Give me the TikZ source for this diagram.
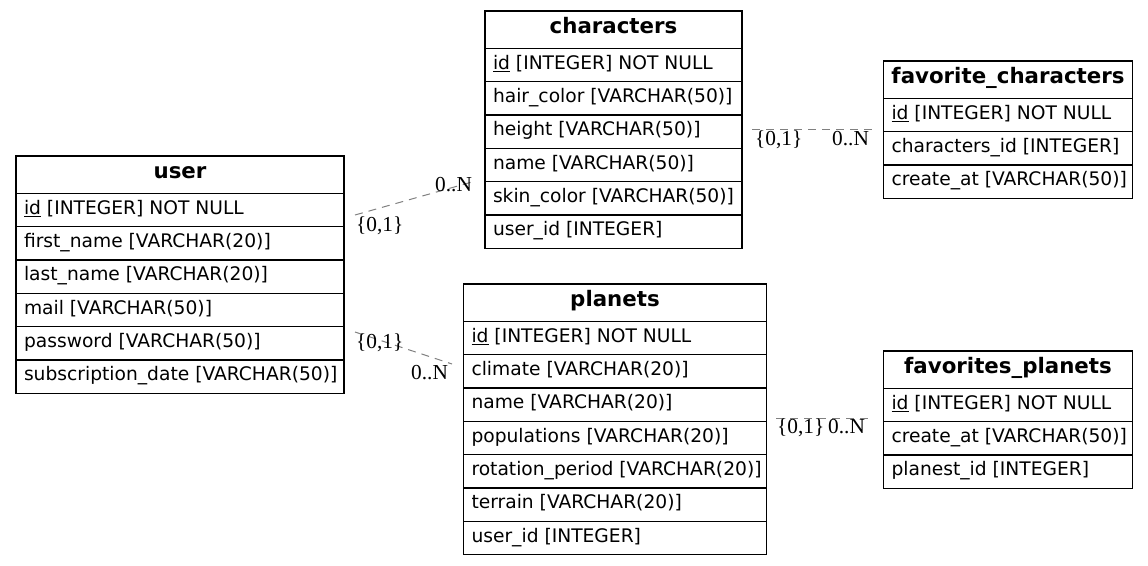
\documentclass[tikz,border=0pt]{standalone}
\usepackage{fontspec}
\setmainfont{DejaVu Sans}
\newfontfamily\cardfont{Liberation Serif}
\newcommand\rowfont{\fontsize{18.67pt}{22pt}\selectfont}
\newcommand\hdrfont{\fontsize{21.33pt}{25pt}\selectfont\bfseries}
\newcommand\cfont{\fontsize{21.33pt}{25pt}\selectfont\cardfont}
\tikzset{
  hdr/.style={draw=black, line width=1.1pt, outer sep=0pt, anchor=north west, inner xsep=0pt, inner ysep=0pt,
    text height=22pt, text depth=15.33pt, font=\hdrfont},
  cell/.style={draw=black, line width=1.1pt, outer sep=0pt, anchor=north west, inner xsep=8pt, inner ysep=0pt,
    text height=21pt, text depth=12.33pt, font=\rowfont},
  rel/.style={draw={rgb,255:red,128;green,128;blue,128}, line width=1pt, dash pattern=on 8pt off 6pt},
  card/.style={anchor=base west, inner sep=0pt, font=\cfont}
}
\newcommand\pk{\underline{id}}
% header: name, x, y, width, title
\newcommand\tabhead[5]{\node[hdr] (#1) at (#2,#3) {\makebox[#4][c]{#5}};}
% row: name, previous, text width, text
\newcommand\tabrow[4]{\node[cell] (#1) at (#2.south west) {\makebox[#3][l]{#4}};}
\begin{document}
\begin{tikzpicture}[x=1pt,y=-1pt]
\useasboundingbox (0,0) rectangle (1148,565);
% ---------- user ----------
\tabhead{user}{16}{156}{328pt}{user}
\tabrow{user-1}{user}{312pt}{\pk{} [INTEGER] NOT NULL}
\tabrow{user-2}{user-1}{312pt}{first\_name [VARCHAR(20)]}
\tabrow{user-3}{user-2}{312pt}{last\_name [VARCHAR(20)]}
\tabrow{user-4}{user-3}{312pt}{mail [VARCHAR(50)]}
\tabrow{user-5}{user-4}{312pt}{password [VARCHAR(50)]}
\tabrow{user-6}{user-5}{312pt}{subscription\_date [VARCHAR(50)]}
% ---------- characters ----------
\tabhead{characters}{485}{11}{257pt}{characters}
\tabrow{characters-1}{characters}{241pt}{\pk{} [INTEGER] NOT NULL}
\tabrow{characters-2}{characters-1}{241pt}{hair\_color [VARCHAR(50)]}
\tabrow{characters-3}{characters-2}{241pt}{height [VARCHAR(50)]}
\tabrow{characters-4}{characters-3}{241pt}{name [VARCHAR(50)]}
\tabrow{characters-5}{characters-4}{241pt}{skin\_color [VARCHAR(50)]}
\tabrow{characters-6}{characters-5}{241pt}{user\_id [INTEGER]}
% ---------- favorite_characters ----------
\tabhead{favchar}{883.5}{61}{249pt}{favorite\_characters}
\tabrow{favchar-1}{favchar}{233pt}{\pk{} [INTEGER] NOT NULL}
\tabrow{favchar-2}{favchar-1}{233pt}{characters\_id [INTEGER]}
\tabrow{favchar-3}{favchar-2}{233pt}{create\_at [VARCHAR(50)]}
% ---------- planets ----------
\tabhead{planets}{463.5}{284}{303pt}{planets}
\tabrow{planets-1}{planets}{287pt}{\pk{} [INTEGER] NOT NULL}
\tabrow{planets-2}{planets-1}{287pt}{climate [VARCHAR(20)]}
\tabrow{planets-3}{planets-2}{287pt}{name [VARCHAR(20)]}
\tabrow{planets-4}{planets-3}{287pt}{populations [VARCHAR(20)]}
\tabrow{planets-5}{planets-4}{287pt}{rotation\_period [VARCHAR(20)]}
\tabrow{planets-6}{planets-5}{287pt}{terrain [VARCHAR(20)]}
\tabrow{planets-7}{planets-6}{287pt}{user\_id [INTEGER]}
% ---------- favorites_planets ----------
\tabhead{favplan}{883.5}{351}{249pt}{favorites\_planets}
\tabrow{favplan-1}{favplan}{233pt}{\pk{} [INTEGER] NOT NULL}
\tabrow{favplan-2}{favplan-1}{233pt}{create\_at [VARCHAR(50)]}
\tabrow{favplan-3}{favplan-2}{233pt}{planest\_id [INTEGER]}
% ---------- relation end points ----------
\coordinate (uc-a) at (355,215);
\coordinate (uc-b) at (472,182);
\coordinate (up-a) at (355,332);
\coordinate (up-b) at (452,364);
\coordinate (cf-a) at (752,129);
\coordinate (cf-b) at (873,129);
\coordinate (pf-a) at (776,418);
\coordinate (pf-b) at (873,418);
\draw[rel] (uc-a) -- (uc-b);
\draw[rel] (up-a) -- (up-b);
\draw[rel] (cf-a) -- (cf-b);
\draw[rel] (pf-a) -- (pf-b);
% ---------- cardinalities ----------
\node[card] (uc-l1) at (356,231) {\{0,1\}};
\node[card] (uc-l2) at (435,191) {0..N};
\node[card] (up-l1) at (356,348) {\{0,1\}};
\node[card] (up-l2) at (411,379.5) {0..N};
\node[card] (cf-l1) at (755,145.5) {\{0,1\}};
\node[card] (cf-l2) at (832,145.5) {0..N};
\node[card] (pf-l1) at (777,433) {\{0,1\}};
\node[card] (pf-l2) at (828,433) {0..N};
\end{tikzpicture}
\end{document}
